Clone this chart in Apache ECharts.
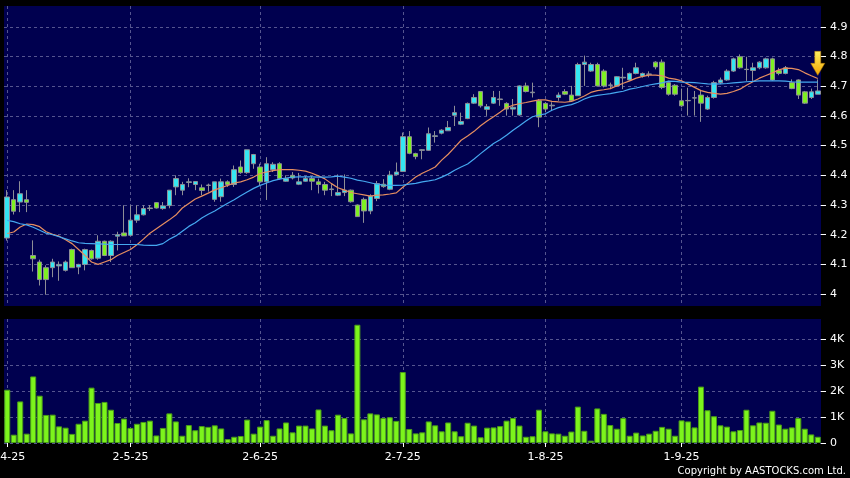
<!DOCTYPE html>
<html>
<head>
<meta charset="utf-8">
<title>AASTOCKS daily chart</title>
<script src="https://cdn.jsdelivr.net/npm/echarts@6/dist/echarts.min.js"></script>
<style>
  html, body { margin: 0; padding: 0; background: #000; }
  #chart { width: 850px; height: 478px; }
</style>
</head>
<body>
<div id="chart"></div>
<script>
// trading days per month (2025)
const monthDays = [
  [4, [1, 2, 3, 7, 8, 9, 10, 11, 14, 15, 16, 17, 22, 23, 24, 25, 28, 29, 30]],
  [5, [2, 6, 7, 8, 9, 12, 13, 14, 15, 16, 19, 20, 21, 22, 23, 26, 27, 28, 29, 30]],
  [6, [2, 3, 4, 5, 6, 9, 10, 11, 12, 13, 16, 17, 18, 19, 20, 23, 24, 25, 26, 27, 30]],
  [7, [1, 2, 3, 4, 7, 8, 9, 10, 11, 14, 15, 16, 17, 18, 21, 22, 23, 24, 25, 28, 29, 30, 31]],
  [8, [1, 4, 5, 6, 7, 8, 11, 12, 13, 14, 15, 18, 19, 20, 21, 22, 25, 26, 27, 28, 29]],
  [9, [1, 2, 3, 4, 5, 8, 9, 10, 11, 12, 15, 16, 17, 18, 19, 22, 23, 24, 25, 26, 29, 30]]
]
const dates = monthDays.flatMap(([m, days]) => days.map(d => d + '-' + m + '-25'))

const monthTicks = ['1-4-25', '2-5-25', '2-6-25', '2-7-25', '1-8-25', '1-9-25']
const priceTicks = [4, 4.1, 4.2, 4.3, 4.4, 4.5, 4.6, 4.7, 4.8, 4.9]
const volumeTicks = [0, 1, 2, 3, 4]

const opens = [
  4.189, 4.318, 4.31, 4.318, 4.13, 4.108, 4.089, 4.089, 4.095, 4.08,
  4.15, 4.091, 4.1, 4.147, 4.121, 4.178, 4.13, 4.195, 4.206, 4.198,
  4.249, 4.267, 4.288, 4.308, 4.288, 4.298, 4.361, 4.35, 4.376, 4.369,
  4.358, 4.366, 4.319, 4.328, 4.378, 4.369, 4.428, 4.409, 4.439, 4.428,
  4.378, 4.419, 4.439, 4.38, 4.4, 4.37, 4.38, 4.389, 4.378, 4.369,
  4.352, 4.333, 4.342, 4.35, 4.3, 4.319, 4.28, 4.322, 4.37, 4.353,
  4.402, 4.413, 4.53, 4.473, 4.484, 4.484, 4.531, 4.542, 4.55, 4.602,
  4.572, 4.591, 4.643, 4.682, 4.622, 4.643, 4.655, 4.642, 4.623, 4.603,
  4.701, 4.678, 4.651, 4.642, 4.634, 4.662, 4.682, 4.67, 4.668, 4.773,
  4.751, 4.773, 4.751, 4.703, 4.701, 4.728, 4.721, 4.743, 4.734, 4.74,
  4.781, 4.781, 4.712, 4.703, 4.651, 4.651, 4.66, 4.67, 4.623, 4.662,
  4.712, 4.721, 4.751, 4.799, 4.756, 4.753, 4.762, 4.762, 4.792, 4.753,
  4.743, 4.712, 4.721, 4.681, 4.662, 4.673
]
const closes = [
  4.327, 4.279, 4.338, 4.309, 4.119, 4.049, 4.049, 4.108, 4.1, 4.108,
  4.089, 4.1, 4.15, 4.119, 4.178, 4.13, 4.178, 4.2, 4.196, 4.249,
  4.267, 4.288, 4.29, 4.29, 4.297, 4.35, 4.389, 4.369, 4.378, 4.379,
  4.349, 4.367, 4.378, 4.378, 4.369, 4.419, 4.409, 4.486, 4.47, 4.378,
  4.439, 4.437, 4.389, 4.389, 4.391, 4.378, 4.389, 4.38, 4.369, 4.35,
  4.354, 4.342, 4.35, 4.311, 4.261, 4.28, 4.33, 4.372, 4.362, 4.401,
  4.411, 4.53, 4.474, 4.463, 4.486, 4.54, 4.533, 4.552, 4.561, 4.611,
  4.581, 4.642, 4.662, 4.634, 4.631, 4.662, 4.657, 4.623, 4.629, 4.701,
  4.682, 4.68, 4.596, 4.623, 4.636, 4.67, 4.673, 4.651, 4.773, 4.781,
  4.773, 4.701, 4.701, 4.704, 4.732, 4.73, 4.743, 4.762, 4.743, 4.741,
  4.765, 4.696, 4.673, 4.673, 4.634, 4.652, 4.661, 4.643, 4.662, 4.712,
  4.721, 4.751, 4.792, 4.762, 4.757, 4.762, 4.781, 4.792, 4.721, 4.743,
  4.762, 4.692, 4.67, 4.643, 4.681, 4.684
]
const lows = [
  4.18, 4.268, 4.276, 4.276, 4.076, 4.029, 3.998, 4.057, 4.045, 4.076,
  4.089, 4.067, 4.08, 4.116, 4.116, 4.128, 4.108, 4.147, 4.196, 4.196,
  4.24, 4.265, 4.28, 4.288, 4.284, 4.289, 4.333, 4.333, 4.36, 4.35,
  4.333, 4.345, 4.311, 4.311, 4.361, 4.361, 4.405, 4.405, 4.422, 4.367,
  4.317, 4.411, 4.386, 4.378, 4.386, 4.367, 4.378, 4.35, 4.339, 4.333,
  4.33, 4.33, 4.33, 4.308, 4.261, 4.24, 4.269, 4.313, 4.358, 4.35,
  4.4, 4.411, 4.471, 4.454, 4.454, 4.482, 4.51, 4.538, 4.55, 4.566,
  4.569, 4.589, 4.64, 4.628, 4.6, 4.64, 4.634, 4.601, 4.601, 4.601,
  4.679, 4.662, 4.562, 4.612, 4.618, 4.651, 4.67, 4.648, 4.668, 4.701,
  4.748, 4.699, 4.696, 4.69, 4.699, 4.69, 4.718, 4.74, 4.729, 4.73,
  4.757, 4.69, 4.668, 4.668, 4.629, 4.601, 4.601, 4.58, 4.62, 4.658,
  4.707, 4.718, 4.748, 4.759, 4.718, 4.718, 4.757, 4.759, 4.718, 4.737,
  4.74, 4.69, 4.657, 4.64, 4.657, 4.673
]
const highs = [
  4.35, 4.35, 4.38, 4.35, 4.181, 4.116, 4.097, 4.119, 4.11, 4.113,
  4.153, 4.102, 4.153, 4.15, 4.198, 4.18, 4.181, 4.21, 4.299, 4.299,
  4.299, 4.299, 4.3, 4.31, 4.31, 4.35, 4.4, 4.378, 4.39, 4.38,
  4.369, 4.372, 4.378, 4.389, 4.383, 4.433, 4.45, 4.486, 4.472, 4.439,
  4.461, 4.444, 4.444, 4.4, 4.411, 4.408, 4.397, 4.397, 4.389, 4.378,
  4.37, 4.403, 4.403, 4.352, 4.302, 4.325, 4.336, 4.381, 4.387, 4.415,
  4.443, 4.544, 4.549, 4.476, 4.488, 4.561, 4.549, 4.555, 4.583, 4.634,
  4.611, 4.645, 4.673, 4.684, 4.64, 4.684, 4.684, 4.646, 4.657, 4.703,
  4.712, 4.712, 4.657, 4.646, 4.646, 4.679, 4.69, 4.701, 4.779, 4.803,
  4.779, 4.779, 4.757, 4.712, 4.734, 4.762, 4.746, 4.779, 4.746, 4.75,
  4.784, 4.79, 4.718, 4.707, 4.692, 4.695, 4.684, 4.684, 4.668, 4.718,
  4.729, 4.757, 4.796, 4.807, 4.799, 4.779, 4.784, 4.796, 4.796, 4.762,
  4.768, 4.723, 4.723, 4.684, 4.692, 4.723
]

// moving averages as drawn (orange = short, blue = long)
const maShort = [
  4.204, 4.209, 4.226, 4.236, 4.234, 4.227, 4.21, 4.201, 4.195, 4.183,
  4.17, 4.15, 4.13, 4.108, 4.1, 4.108, 4.116, 4.13, 4.14, 4.15,
  4.166, 4.185, 4.205, 4.22, 4.235, 4.25, 4.266, 4.29, 4.305, 4.32,
  4.33, 4.34, 4.351, 4.358, 4.366, 4.374, 4.378, 4.385, 4.394, 4.406,
  4.411, 4.416, 4.419, 4.419, 4.419, 4.417, 4.414, 4.407, 4.398, 4.388,
  4.372, 4.358, 4.35, 4.342, 4.338, 4.334, 4.33, 4.333, 4.334, 4.337,
  4.341, 4.36, 4.377, 4.394, 4.407, 4.417, 4.428, 4.451, 4.471, 4.494,
  4.518, 4.532, 4.548, 4.567, 4.583, 4.597, 4.612, 4.628, 4.636, 4.641,
  4.645, 4.65, 4.654, 4.654, 4.649, 4.647, 4.646, 4.649, 4.657, 4.667,
  4.679, 4.685, 4.688, 4.692, 4.701, 4.71, 4.718, 4.727, 4.733, 4.737,
  4.737, 4.735, 4.727, 4.724, 4.718, 4.707, 4.696, 4.685, 4.679, 4.676,
  4.673, 4.676, 4.682, 4.69, 4.703, 4.715, 4.727, 4.736, 4.745, 4.755,
  4.761, 4.76, 4.756, 4.745, 4.735, 4.726
]
const maLong = [
  4.248, 4.244, 4.237, 4.233, 4.225, 4.215, 4.205, 4.2, 4.193, 4.186,
  4.179, 4.173, 4.171, 4.17, 4.169, 4.168, 4.167, 4.167, 4.167, 4.167,
  4.167, 4.165, 4.164, 4.164, 4.17, 4.185, 4.196, 4.212, 4.228, 4.24,
  4.256, 4.269, 4.28, 4.293, 4.306, 4.318, 4.331, 4.344, 4.356, 4.366,
  4.374, 4.382, 4.387, 4.391, 4.394, 4.395, 4.395, 4.395, 4.394, 4.394,
  4.395, 4.397, 4.394, 4.39, 4.384, 4.38, 4.375, 4.37, 4.367, 4.366,
  4.366, 4.367, 4.37, 4.373, 4.378, 4.381, 4.385, 4.394, 4.404, 4.417,
  4.428, 4.438, 4.455, 4.473, 4.49, 4.507, 4.52, 4.535, 4.552, 4.567,
  4.583, 4.597, 4.603, 4.607, 4.619, 4.628, 4.634, 4.638, 4.646, 4.657,
  4.665, 4.669, 4.672, 4.675, 4.679, 4.683, 4.69, 4.694, 4.699, 4.704,
  4.708, 4.711, 4.717, 4.716, 4.714, 4.713, 4.712, 4.71, 4.708, 4.707,
  4.708, 4.709, 4.711, 4.713, 4.715, 4.716, 4.718, 4.718, 4.718, 4.718,
  4.717, 4.715, 4.714, 4.714, 4.714, 4.714
]

// volume in thousands
const volumes = [
  2.05, 0.32, 1.6, 0.36, 2.56, 1.82, 1.08, 1.09, 0.64, 0.59,
  0.35, 0.74, 0.86, 2.13, 1.54, 1.58, 1.28, 0.77, 0.94, 0.58,
  0.74, 0.81, 0.86, 0.29, 0.58, 1.14, 0.83, 0.28, 0.69, 0.49,
  0.65, 0.62, 0.68, 0.56, 0.15, 0.24, 0.27, 0.9, 0.36, 0.63,
  0.88, 0.28, 0.56, 0.79, 0.41, 0.67, 0.67, 0.56, 1.29, 0.67,
  0.49, 1.09, 0.96, 0.37, 4.55, 0.91, 1.14, 1.1, 0.96, 0.99,
  0.85, 2.73, 0.54, 0.37, 0.41, 0.83, 0.68, 0.45, 0.79, 0.45,
  0.26, 0.78, 0.67, 0.22, 0.59, 0.6, 0.65, 0.86, 0.96, 0.67,
  0.24, 0.26, 1.28, 0.45, 0.37, 0.36, 0.28, 0.44, 1.4, 0.47,
  0.09, 1.33, 1.12, 0.69, 0.55, 0.96, 0.28, 0.4, 0.29, 0.36,
  0.47, 0.62, 0.55, 0.28, 0.87, 0.83, 0.6, 2.17, 1.26, 1.03,
  0.68, 0.63, 0.45, 0.5, 1.28, 0.68, 0.79, 0.78, 1.24, 0.71,
  0.55, 0.6, 0.96, 0.55, 0.33, 0.24
]

const candles = dates.map((d, i) => [opens[i], closes[i], lows[i], highs[i]])
const last = dates.length - 1

const gridLine = { show: true, lineStyle: { color: '#55558f', type: [3, 3], width: 1 } }
const isMonthTick = (idx, value) => monthTicks.includes(value)
const labelFont = { color: '#ffffff', fontFamily: 'DejaVu Sans', fontSize: 11 }

const chart = echarts.init(document.getElementById('chart'))

const option = {
  backgroundColor: '#000000',
  animation: false,
  grid: [
    { left: 4, top: 6, width: 817, height: 300, show: true, backgroundColor: '#00004f', borderWidth: 0, containLabel: false, outerBoundsMode: 'none' },
    { left: 4, top: 319, width: 817, height: 124, show: true, backgroundColor: '#00004f', borderWidth: 0, containLabel: false, outerBoundsMode: 'none' }
  ],
  xAxis: [
    {
      type: 'category',
      gridIndex: 0,
      data: dates,
      boundaryGap: true,
      axisLine: { show: false },
      axisTick: { show: false },
      axisLabel: { show: false },
      splitLine: Object.assign({ interval: isMonthTick, alignWithLabel: true }, gridLine)
    },
    {
      type: 'category',
      gridIndex: 1,
      data: dates,
      boundaryGap: true,
      axisLine: { show: false },
      axisTick: { show: true, interval: isMonthTick, alignWithLabel: true, length: 4, lineStyle: { color: '#ffffff' } },
      axisLabel: Object.assign({ interval: isMonthTick, margin: 9, alignMinLabel: 'center' }, labelFont),
      splitLine: Object.assign({ interval: isMonthTick, alignWithLabel: true }, gridLine)
    }
  ],
  yAxis: [
    {
      type: 'value',
      gridIndex: 0,
      position: 'right',
      min: 3.96,
      max: 4.97,
      axisLine: { show: false },
      axisTick: { show: true, customValues: priceTicks, length: 5, lineStyle: { color: '#ffffff' } },
      axisLabel: Object.assign({ customValues: priceTicks, margin: 9 }, labelFont),
      splitLine: gridLine
    },
    {
      type: 'value',
      gridIndex: 1,
      position: 'right',
      min: 0,
      max: 4.77,
      axisLine: { show: false },
      axisTick: { show: true, customValues: volumeTicks, length: 5, lineStyle: { color: '#ffffff' } },
      axisLabel: Object.assign({
        customValues: volumeTicks,
        margin: 9,
        formatter: v => (v === 0 ? '0' : v + 'K')
      }, labelFont),
      splitLine: gridLine
    }
  ],
  graphic: [
    {
      type: 'text',
      right: 4,
      bottom: 2,
      style: { text: 'Copyright by AASTOCKS.com Ltd.', fill: '#ffffff', font: '10px "DejaVu Sans"' }
    }
  ],
  series: [
    {
      name: 'Price',
      type: 'candlestick',
      xAxisIndex: 0,
      yAxisIndex: 0,
      data: candles,
      barWidth: 5,
      itemStyle: {
        color: '#35e6f2',
        color0: '#7ef022',
        borderColor: '#8e8e96',
        borderColor0: '#8e8e96',
        borderColorDoji: '#8e8e96',
        borderWidth: 1
      },
      markPoint: {
        symbol: 'path://M4,0 L10,0 L10,12 L14,12 L7,24 L0,12 L4,12 Z',
        symbolSize: [14, 24],
        symbolOffset: [0, -16],
        label: { show: false },
        itemStyle: {
          color: new echarts.graphic.LinearGradient(0, 0, 0, 1, [
            { offset: 0, color: '#fff060' },
            { offset: 1, color: '#f0a400' }
          ]),
          borderColor: '#b87800',
          borderWidth: 0.5
        },
        data: [{ coord: [dates[last], highs[last]] }]
      }
    },
    {
      name: 'MA short',
      type: 'line',
      xAxisIndex: 0,
      yAxisIndex: 0,
      data: maShort,
      symbol: 'none',
      lineStyle: { color: '#e68e60', width: 1.2 }
    },
    {
      name: 'MA long',
      type: 'line',
      xAxisIndex: 0,
      yAxisIndex: 0,
      data: maLong,
      symbol: 'none',
      lineStyle: { color: '#45a8f0', width: 1.2 }
    },
    {
      name: 'Volume',
      type: 'bar',
      xAxisIndex: 1,
      yAxisIndex: 1,
      data: volumes,
      barWidth: 6,
      itemStyle: { color: '#7cf41c', borderColor: '#4a9c18', borderWidth: 1 }
    }
  ]
}

chart.setOption(option)
</script>
</body>
</html>
